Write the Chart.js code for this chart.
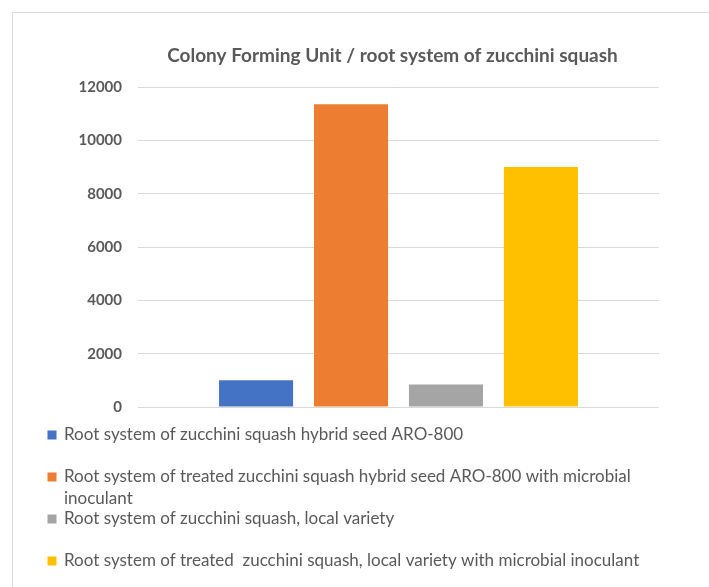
<!DOCTYPE html>
<html>
<head>
<meta charset="utf-8">
<script src="https://cdn.jsdelivr.net/npm/chart.js@4/dist/chart.umd.min.js"></script>
<style>
  html, body { margin: 0; padding: 0; background: #ffffff; }
  #wrap { position: relative; width: 709px; height: 587px; }
</style>
</head>
<body>
<div id="wrap"><canvas id="c"></canvas></div>
<script>
// ---- data ----
const categories = ['Colony Forming Unit'];
const seriesLabels = [
  'Root system of zucchini squash hybrid seed ARO-800',
  'Root system of treated zucchini squash hybrid seed ARO-800 with microbial inoculant',
  'Root system of zucchini squash, local variety',
  'Root system of treated  zucchini squash, local variety with microbial inoculant'
];
const seriesValues = [1000, 11350, 840, 9000];
const yMin = 0;
const yMax = 12000;
const yStep = 2000;
const titleText = 'Colony Forming Unit / root system of zucchini squash';

// ---- styles ----
const seriesColors = ['#4472C4', '#ED7D31', '#A5A5A5', '#FFC000'];
const textColor = '#595959';
const gridColor = '#D9D9D9';
const fontFamily = 'Lato, "Open Sans", "Liberation Sans", sans-serif';

const datasets = seriesLabels.map((lbl, i) => ({
  label: lbl,
  data: [seriesValues[i]],
  backgroundColor: seriesColors[i],
  borderWidth: 0,
  categoryPercentage: 0.729,
  barPercentage: 0.78
}));

// frame, title and custom wrapped legend
const framePlugin = {
  id: 'frame',
  beforeDraw(chart) {
    const ctx = chart.ctx;
    ctx.save();
    ctx.fillStyle = '#ffffff';
    ctx.fillRect(0, 0, chart.width, chart.height);
    ctx.strokeStyle = gridColor;
    ctx.lineWidth = 1;
    ctx.beginPath();
    ctx.moveTo(12.5, chart.height);
    ctx.lineTo(12.5, 12.5);
    ctx.lineTo(chart.width, 12.5);
    ctx.stroke();
    ctx.restore();
  },
  afterDraw(chart) {
    const ctx = chart.ctx;
    const area = chart.chartArea;
    ctx.save();
    // title
    ctx.font = 'bold 19px ' + fontFamily;
    ctx.fillStyle = textColor;
    ctx.textAlign = 'center';
    ctx.textBaseline = 'middle';
    ctx.fillText(titleText, (area.left + area.right) / 2 - 6, 56);

    // legend
    const dsets = chart.data.datasets;
    const markerX = 47.5, textX = 64, firstY = 435, rowH = 42, lineH = 22, maxW = 600, box = 9;
    ctx.font = '17px ' + fontFamily;
    ctx.textBaseline = 'middle';
    ctx.textAlign = 'left';
    dsets.forEach((ds, i) => {
      const y = firstY + i * rowH;
      ctx.fillStyle = ds.backgroundColor;
      ctx.fillRect(markerX, y - box / 2, box, box);
      const words = ds.label.split(' ');
      const lines = [];
      let cur = '';
      words.forEach(w => {
        const test = cur === '' ? w : cur + ' ' + w;
        if (ctx.measureText(test).width > maxW && cur !== '') {
          lines.push(cur);
          cur = w;
        } else {
          cur = test;
        }
      });
      lines.push(cur);
      ctx.fillStyle = textColor;
      lines.forEach((ln, k) => ctx.fillText(ln, textX, y + k * lineH));
    });
    ctx.restore();
  }
};

new Chart(document.getElementById('c'), {
  type: 'bar',
  data: { labels: categories, datasets: datasets },
  plugins: [framePlugin],
  options: {
    responsive: true,
    maintainAspectRatio: false,
    animation: false,
    layout: { padding: { left: 0, right: 50, top: 87, bottom: 180 } },
    plugins: {
      legend: { display: false },
      tooltip: { enabled: false },
      title: { display: false }
    },
    scales: {
      x: { display: false },
      y: {
        min: yMin,
        max: yMax,
        afterFit(scale) { scale.width = 138; },
        ticks: {
          stepSize: yStep,
          padding: 16,
          color: textColor,
          font: { family: fontFamily, size: 15, weight: 'bold' },
          callback: (v) => String(v)
        },
        grid: { color: gridColor, lineWidth: 1, drawTicks: false },
        border: { display: false }
      }
    }
  }
});
</script>
</body>
</html>
